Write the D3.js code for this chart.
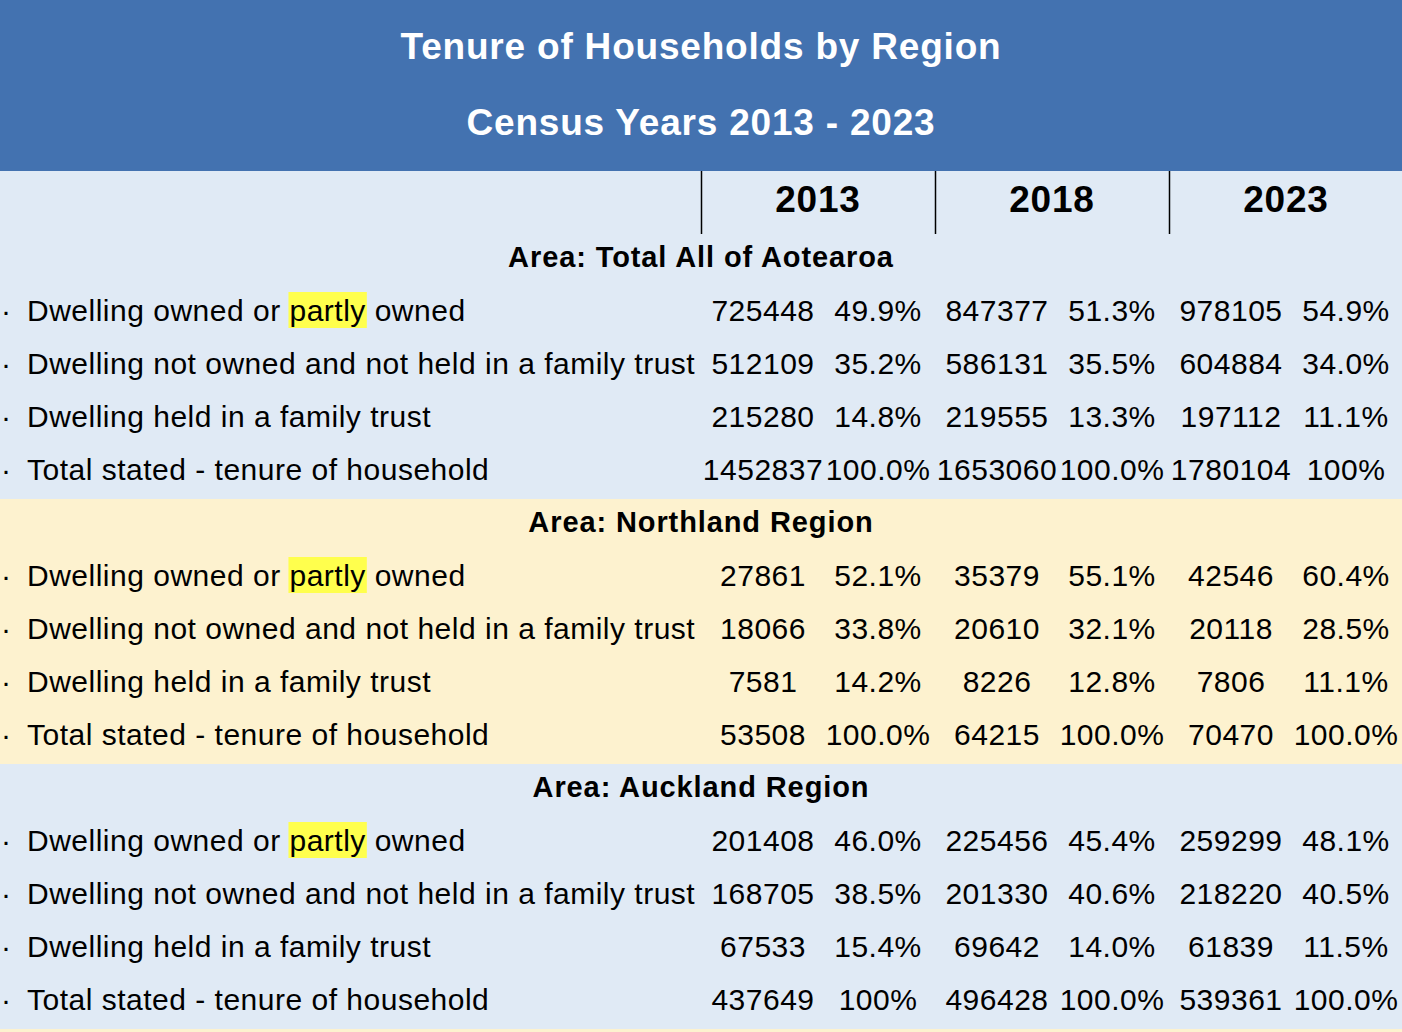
<!DOCTYPE html>
<html><head><meta charset="utf-8">
<script src="https://cdn.jsdelivr.net/npm/d3@7"></script>
<style>html,body{margin:0;padding:0;background:#fff;}svg{display:block;}</style>
</head><body>
<svg id="chart" width="1402" height="1032"></svg>
<script>
const titleLines = ["Tenure of Households by Region", "Census Years 2013 - 2023"];
const years = ["2013", "2018", "2023"];
const regions = ["Area: Total All of Aotearoa", "Area: Northland Region", "Area: Auckland Region"];
const categories = [
  "Dwelling owned or partly owned",
  "Dwelling not owned and not held in a family trust",
  "Dwelling held in a family trust",
  "Total stated - tenure of household"
];
const countsAotearoa = [[725448, 847377, 978105],[512109, 586131, 604884],[215280, 219555, 197112],[1452837, 1653060, 1780104]];
const pctAotearoa = [["49.9%","51.3%","54.9%"],["35.2%","35.5%","34.0%"],["14.8%","13.3%","11.1%"],["100.0%","100.0%","100%"]];
const countsNorthland = [[27861, 35379, 42546],[18066, 20610, 20118],[7581, 8226, 7806],[53508, 64215, 70470]];
const pctNorthland = [["52.1%","55.1%","60.4%"],["33.8%","32.1%","28.5%"],["14.2%","12.8%","11.1%"],["100.0%","100.0%","100.0%"]];
const countsAuckland = [[201408, 225456, 259299],[168705, 201330, 218220],[67533, 69642, 61839],[437649, 496428, 539361]];
const pctAuckland = [["46.0%","45.4%","48.1%"],["38.5%","40.6%","40.5%"],["15.4%","14.0%","11.5%"],["100%","100.0%","100.0%"]];
const regionCounts = [countsAotearoa, countsNorthland, countsAuckland];
const regionPcts = [pctAotearoa, pctNorthland, pctAuckland];

const W = 1402, H = 1032;
const svg = d3.select("#chart");
const FONT = "'Liberation Sans', Arial, Helvetica, sans-serif";
const headerBlue = "#4372b0", lightBlue = "#e0eaf5", lightYellow = "#fdf2cf";
const BODY = 30, BODY_LS = 0.5;

// title band
svg.append("rect").attr("x",0).attr("y",0).attr("width",W).attr("height",171).attr("fill",headerBlue);
svg.selectAll("text.title").data(titleLines).join("text").attr("class","title")
  .attr("x", 701).attr("y", (d,i)=> i===0 ? 59 : 135)
  .attr("text-anchor","middle").attr("fill","#fff").attr("font-family",FONT)
  .attr("font-weight","bold").attr("font-size",37).attr("letter-spacing",0.8).text(d=>d);

// vertical layout
const sectionH = 265, sectionTop = 234;
const sectionY = d3.scaleBand().domain(regions).range([sectionTop, sectionTop + sectionH*regions.length]).padding(0);
const rowY = d3.scaleBand().domain(["hdr"].concat(categories)).range([0, sectionH]).padding(0);

// column header row background
svg.append("rect").attr("x",0).attr("y",171).attr("width",W).attr("height",sectionTop-171).attr("fill",lightBlue);

// year columns
const yearX = d3.scaleBand().domain(years).range([701, 1403]);
const countX = y => yearX(y) + 62;
const pctX = y => yearX(y) + 177;

svg.selectAll("line.ydiv").data(years).join("line").attr("class","ydiv")
  .attr("x1", d=>yearX(d)+0.5).attr("x2", d=>yearX(d)+0.5).attr("y1",171).attr("y2",235)
  .attr("stroke","#000").attr("stroke-width",1.5);
svg.selectAll("text.year").data(years).join("text").attr("class","year")
  .attr("x", d=>yearX(d)+yearX.bandwidth()/2).attr("y", 212)
  .attr("text-anchor","middle").attr("font-family",FONT).attr("font-weight","bold")
  .attr("font-size",37).attr("letter-spacing",0.8).attr("fill","#000").text(d=>d);

// sections
regions.forEach((reg, ri) => {
  const top = sectionY(reg);
  const g = svg.append("g").attr("transform", `translate(0,${top})`);
  g.append("rect").attr("x",0).attr("y",0).attr("width",W).attr("height",sectionH)
    .attr("fill", ri % 2 === 0 ? lightBlue : lightYellow);
  g.append("text").attr("x",701).attr("y", rowY("hdr") + 33)
    .attr("text-anchor","middle").attr("font-family",FONT).attr("font-weight","bold")
    .attr("font-size",29).attr("letter-spacing",0.9).attr("fill","#000").text(reg);
  categories.forEach((cat, ci) => {
    const cy = rowY(cat) + rowY.bandwidth()/2 - 3.5;
    const ty = cy + 10.5;
    g.append("text").attr("x",1).attr("y",ty).attr("font-family",FONT).attr("font-size",BODY).attr("fill","#000").text("·");
    const t = g.append("text").attr("x",27).attr("y",ty).attr("font-family",FONT)
      .attr("font-size",BODY).attr("letter-spacing",BODY_LS).attr("fill","#000").text(cat);
    const idx = cat.indexOf("partly");
    if (idx >= 0) {
      const node = t.node();
      const x0 = node.getStartPositionOfChar(idx).x;
      const x1 = node.getEndPositionOfChar(idx + 5).x;
      g.insert("rect", () => node).attr("x", x0 - 1).attr("y", cy - 18).attr("width", x1 - x0 + 2)
        .attr("height", 36).attr("fill", "#ffff4d");
    }
    years.forEach((yr, yi) => {
      g.append("text").attr("x", countX(yr)).attr("y", ty).attr("text-anchor","middle")
        .attr("font-family",FONT).attr("font-size",BODY).attr("letter-spacing",BODY_LS).attr("fill","#000")
        .text(regionCounts[ri][ci][yi]);
      g.append("text").attr("x", pctX(yr)).attr("y", ty).attr("text-anchor","middle")
        .attr("font-family",FONT).attr("font-size",BODY).attr("letter-spacing",BODY_LS).attr("fill","#000")
        .text(regionPcts[ri][ci][yi]);
    });
  });
});
// bottom sliver of next section
svg.append("rect").attr("x",0).attr("y",sectionTop + sectionH*regions.length).attr("width",W).attr("height",10).attr("fill",lightYellow);
</script>
</body></html>
